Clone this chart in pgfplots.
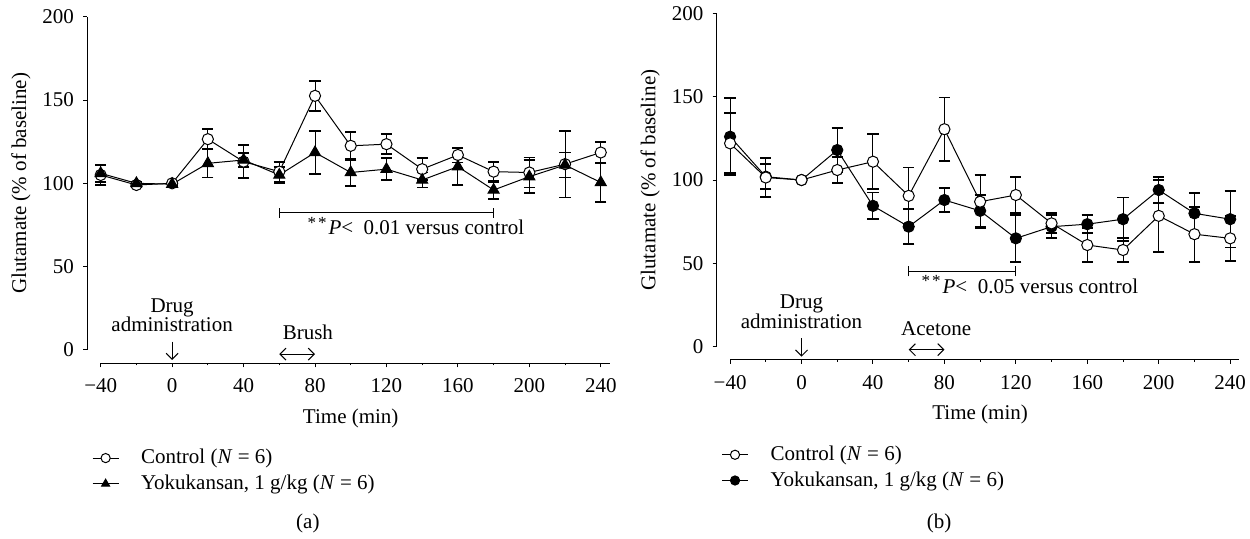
\documentclass[border=0pt]{standalone}
\usepackage{fontspec}
\setmainfont{Liberation Serif}
\usepackage{pgfplots}
\usepackage{pgfplotstable}
\pgfplotsset{compat=1.18}
\usetikzlibrary{arrows.meta}

\pgfplotstableread{
t v e
-40 105 6
-20 99 1.5
0 100 1
20 126.5 6
40 113 10
60 107 6
80 152.5 9
100 122.5 8.5
120 123.5 6
140 108.5 6.5
160 117 4.5
180 107 6
200 106.5 9
220 111.5 20
240 118.5 6.5
}\ctrlA
\pgfplotstableread{
t v e
-40 106 5
-20 100 1
0 99.5 1
20 112 8.5
40 114 4
60 105 5
80 118.5 13
100 106.5 8
120 108.5 6.5
140 102 4.5
160 110 11
180 96 5.5
200 104 10
220 111 7.5
240 100.5 11.5
}\yokuA
\pgfplotstableread{
t v e
-40 122 18
-20 101.5 11.5
0 100 1
20 106 8
40 111 16.5
60 90.5 17
80 130.5 19
100 87 16
120 91 11
140 74 6
160 61 10
180 58 7
200 78.5 21.5
220 67.5 16.5
240 65 13.5
}\ctrlB
\pgfplotstableread{
t v e
-40 126 23
-20 102 7.5
0 100 1
20 118 13
40 84.5 8
60 72 10.5
80 88 7
100 81.5 9.5
120 65 14
140 72 7
160 73.5 5.5
180 76.5 13
200 94 8
220 80 12
240 76.5 17
}\yokuB

\newcommand{\stars}{\raisebox{3.2pt}{\fontsize{8.5}{8.5}\selectfont *\kern1pt*}\kern1pt}

\pgfplotsset{
  panel/.style={
    scale only axis, width=261.2pt, height=173.3pt,
    xmin=-47.5, xmax=245, ymin=-8, ymax=200,
    axis line style={draw=none},
    clip=false,
    tick align=outside,
    tick pos=left,
    major tick length=2pt, minor tick length=1pt,
    every tick/.style={black, line width=0.5pt},
    xtick={-40,0,...,240},
    xticklabels={−40,0,40,80,120,160,200,240},
    minor xtick={-20,20,...,220},
    ytick={0,50,...,200},
    yticklabels={0,50,100,150,200},
    xticklabel style={yshift=-2pt},
    yticklabel style={xshift=-1pt},
    legend cell align=left,
    legend style={at={(axis cs:-44.8,-72.6)}, anchor=west, draw=none, fill=none,
      inner sep=0pt, outer sep=0pt, row sep=2pt, nodes={inner sep=1pt},
      /tikz/every odd column/.append style={column sep=10pt}},
    legend image code/.code={\draw[mark repeat=2,mark phase=2,##1,mark size=2.3pt] plot coordinates {(0pt,0pt) (6.5pt,0pt) (13pt,0pt)};},
  },
  ser/.style={black, line width=0.5pt, mark size=2.8pt,
    error bars/y dir=both, error bars/y explicit,
    error bars/error bar style={line width=0.5pt},
    error bars/error mark options={rotate=90, mark size=2.8pt, line width=0.9pt}},
  opencirc/.style={mark=*, mark options={fill=white, line width=0.5pt}},
  fillcirc/.style={mark=*, mark options={fill=black}},
  filltri/.style={mark=triangle*, mark size=3.2pt, mark options={fill=black}},
}

\begin{document}
\fontsize{10.5}{12}\selectfont
\begin{tikzpicture}
\path[use as bounding box] (0,0) rectangle (625pt,269.5pt);

% ---------- panel (a)
\begin{axis}[panel, at={(43.65pt,87.85pt)}, anchor=south west]
\addplot[ser, opencirc] table[x=t, y=v, y error=e] {\ctrlA};
\addlegendentry{Control (\textit{N} = 6)}
\addplot[ser, filltri] table[x=t, y=v, y error=e] {\yokuA};
\addlegendentry{Yokukansan, 1 g/kg (\textit{N} = 6)}
\draw[line width=0.5pt] (axis cs:-47.5,0) -- (axis cs:-47.5,200);
\draw[line width=0.5pt] (axis cs:-40,-8) -- (axis cs:245,-8);
\node[rotate=90] at (axis cs:-84.7,100) {Glutamate (\% of baseline)};
\node at (axis cs:100,-40.9) {Time (min)};
\node at (axis cs:76,-104.4) {(a)};
\node[align=center, inner sep=0pt, font=\fontsize{10.5}{9.7}\selectfont] at (axis cs:0,21) {Drug\\administration};
\draw[line width=0.5pt, -{Straight Barb[length=3pt,width=6pt]}] (axis cs:0,5) -- (axis cs:0,-6);
\node[anchor=base, inner sep=0pt] at (axis cs:76,6.4) {Brush};
\draw[line width=0.5pt, {Straight Barb[length=3pt,width=6pt]}-{Straight Barb[length=3pt,width=6pt]}] (axis cs:60,-2.5) -- (axis cs:80,-2.5);
\draw[line width=0.5pt] (axis cs:60,82.4) -- (axis cs:180,82.4);
\draw[line width=0.5pt] (axis cs:60,79.4) -- (axis cs:60,85.4);
\draw[line width=0.5pt] (axis cs:180,79.4) -- (axis cs:180,85.4);
\node[anchor=base west, inner sep=0pt] at (axis cs:75.6,69) {\stars\textit{P}<\ \ 0.01 versus control};
\end{axis}

% ---------- panel (b)
\begin{axis}[panel, at={(358.35pt,89.5pt)}, anchor=south west]
\addplot[ser, fillcirc, forget plot] table[x=t, y=v, y error=e] {\yokuB};
\addplot[ser, opencirc] table[x=t, y=v, y error=e] {\ctrlB};
\addlegendentry{Control (\textit{N} = 6)}
\addlegendimage{black, line width=0.5pt, fillcirc}
\addlegendentry{Yokukansan, 1 g/kg (\textit{N} = 6)}
\draw[line width=0.5pt] (axis cs:-47.5,0) -- (axis cs:-47.5,200);
\draw[line width=0.5pt] (axis cs:-40,-8) -- (axis cs:245,-8);
\node[rotate=90] at (axis cs:-84.7,100) {Glutamate (\% of baseline)};
\node at (axis cs:100,-40.9) {Time (min)};
\node at (axis cs:77,-106) {(b)};
\node[align=center, inner sep=0pt, font=\fontsize{10.5}{9.7}\selectfont] at (axis cs:0,21) {Drug\\administration};
\draw[line width=0.5pt, -{Straight Barb[length=3pt,width=6pt]}] (axis cs:0,5) -- (axis cs:0,-6);
\node[anchor=base, inner sep=0pt] at (axis cs:75.4,6.6) {Acetone};
\draw[line width=0.5pt, {Straight Barb[length=3pt,width=6pt]}-{Straight Barb[length=3pt,width=6pt]}] (axis cs:60,-1.8) -- (axis cs:80,-1.8);
\draw[line width=0.5pt] (axis cs:60,45.2) -- (axis cs:120,45.2);
\draw[line width=0.5pt] (axis cs:60,42.2) -- (axis cs:60,48.2);
\draw[line width=0.5pt] (axis cs:120,42.2) -- (axis cs:120,48.2);
\node[anchor=base west, inner sep=0pt] at (axis cs:67,32) {\stars\textit{P}<\ \ 0.05 versus control};
\end{axis}
\end{tikzpicture}
\end{document}
